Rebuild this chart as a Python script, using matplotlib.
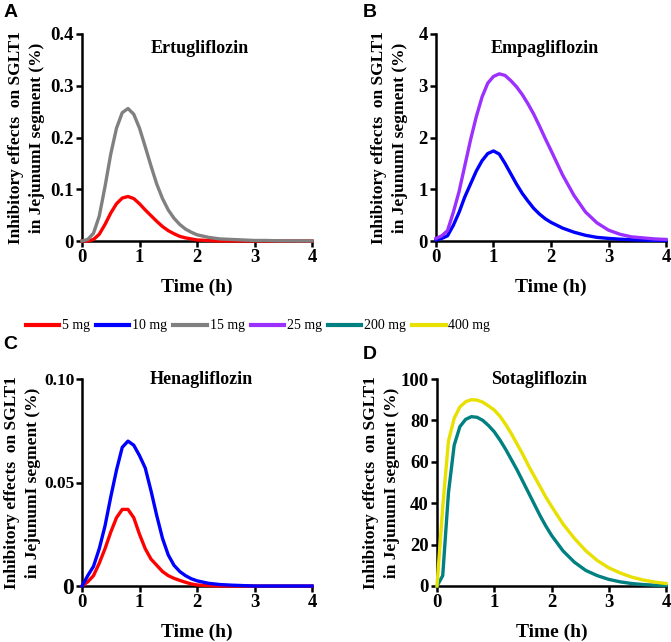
import matplotlib
matplotlib.use("Agg")
import matplotlib.pyplot as plt

plt.rcParams['font.family'] = ['Liberation Serif', 'DejaVu Serif']
plt.rcParams['font.weight'] = 'bold'

# time grid (h)
t = [0, 0.1, 0.2, 0.3, 0.4, 0.5, 0.6, 0.7, 0.8, 0.9, 1.0, 1.1, 1.2, 1.3, 1.4, 1.5,
     1.6, 1.7, 1.8, 1.9, 2.0, 2.2, 2.4, 2.6, 2.8, 3.0, 3.2, 3.4, 3.6, 3.8, 4.0]

# Ertugliflozin
ertu_5 = [0, 0, 0.003, 0.013, 0.032, 0.054, 0.072, 0.083, 0.086, 0.082, 0.072, 0.060,
          0.049, 0.038, 0.028, 0.020, 0.014, 0.009, 0.006, 0.004, 0.002, 0.001, 0,
          0, 0, 0, 0, 0, 0, 0, 0]
ertu_15 = [0, 0.003, 0.015, 0.048, 0.105, 0.168, 0.218, 0.248, 0.256, 0.245, 0.218,
           0.182, 0.145, 0.110, 0.082, 0.060, 0.044, 0.032, 0.023, 0.017, 0.012, 0.007,
           0.004, 0.003, 0.002, 0.001, 0.001, 0.0005, 0.0003, 0.0002, 0.0001]

# Empagliflozin
empa_10 = [0.02, 0.05, 0.10, 0.30, 0.55, 0.85, 1.10, 1.35, 1.55, 1.69, 1.74, 1.68, 1.50,
           1.30, 1.10, 0.92, 0.77, 0.63, 0.52, 0.43, 0.36, 0.25, 0.17, 0.11, 0.07, 0.05,
           0.035, 0.025, 0.018, 0.013, 0.01]
empa_25 = [0.05, 0.10, 0.20, 0.55, 0.95, 1.45, 1.95, 2.40, 2.78, 3.05, 3.18, 3.23, 3.20,
           3.10, 2.98, 2.83, 2.65, 2.45, 2.22, 1.98, 1.75, 1.28, 0.88, 0.56, 0.35, 0.21,
           0.13, 0.08, 0.06, 0.04, 0.03]

# Henagliflozin
hena_5 = [0, 0.002, 0.005, 0.011, 0.018, 0.026, 0.033, 0.037, 0.037, 0.033, 0.025, 0.018,
          0.013, 0.010, 0.007, 0.005, 0.0037, 0.0027, 0.0018, 0.001, 0.0005, 0.0002, 0,
          0, 0, 0, 0, 0, 0, 0, 0]
hena_10 = [0, 0.005, 0.0095, 0.018, 0.029, 0.043, 0.056, 0.067, 0.070, 0.068, 0.063,
           0.057, 0.046, 0.034, 0.023, 0.015, 0.010, 0.007, 0.005, 0.0035, 0.0025, 0.0013,
           0.0007, 0.0004, 0.0002, 0, 0, 0, 0, 0, 0]

# Sotagliflozin
sota_200 = [0, 5, 45, 68, 77, 80.5, 81.8, 81.5, 80, 77.5, 74.5, 70.5, 66, 61, 56, 50.5,
            45, 39.5, 34, 29, 24.5, 17, 11.5, 7.5, 5, 3.2, 2, 1.2, 0.7, 0.4, 0.2]
sota_400 = [0, 38, 70, 81, 86.5, 89, 90, 89.8, 88.8, 87, 85, 82, 78, 73.5, 68.5, 63.5,
            58, 53, 48, 43, 38.5, 30, 23, 17, 12.3, 8.8, 6.3, 4.3, 2.9, 1.9, 1.2]

doses = ['5 mg', '10 mg', '15 mg', '25 mg', '200 mg', '400 mg']
colors = {'5 mg': '#ff0000', '10 mg': '#0000ff', '15 mg': '#808080',
          '25 mg': '#9b30ff', '200 mg': '#008080', '400 mg': '#e8e000'}

ylabel = 'Inhibitory effects  on SGLT1\nin JejunumI segment (%)'

fig = plt.figure(figsize=(6.71, 6.42), dpi=100)
W, H = 671, 642


def make_ax(x0, x1, ytop, ybot):
    return fig.add_axes([x0 / W, 1 - ybot / H, (x1 - x0) / W, (ybot - ytop) / H])


axA = make_ax(82, 312, 34, 241)
axB = make_ax(436, 666, 34, 241)
axC = make_ax(82, 312, 379, 586)
axD = make_ax(437, 666, 379, 586)

panels = [
    (axA, 'Ertugliflozin', [('5 mg', ertu_5), ('15 mg', ertu_15)], 0.4, [0, 0.1, 0.2, 0.3, 0.4],
     ['0', '0.1', '0.2', '0.3', '0.4'], (0.51, 0.93), -0.16),
    (axB, 'Empagliflozin', [('10 mg', empa_10), ('25 mg', empa_25)], 4, [0, 1, 2, 3, 4],
     ['0', '1', '2', '3', '4'], (0.475, 0.93), -0.122),
    (axC, 'Henagliflozin', [('5 mg', hena_5), ('10 mg', hena_10)], 0.1, [0, 0.05, 0.10],
     ['0', '0.05', '0.10'], (0.52, 1.0), -0.178),
    (axD, 'Sotagliflozin', [('200 mg', sota_200), ('400 mg', sota_400)], 100,
     [0, 20, 40, 60, 80, 100], ['0', '20', '40', '60', '80', '100'], (0.445, 1.0), -0.16),
]

for ax, title, series, ymax, yt, ytl, tpos, labx in panels:
    for dose, vals in series:
        ax.plot(t, vals, color=colors[dose], lw=2.4, clip_on=False, zorder=3,
                solid_joinstyle='round')
    ax.set_xlim(0, 4)
    ax.set_ylim(0, ymax)
    ax.set_xticks([0, 1, 2, 3, 4])
    ax.set_yticks(yt)
    ax.set_yticklabels(ytl)
    for s in ['top', 'right']:
        ax.spines[s].set_visible(False)
    for s in ['left', 'bottom']:
        ax.spines[s].set_linewidth(1.8)
    ax.tick_params(width=1.8, length=4, labelsize=13.5, pad=2)
    ax.set_xlabel('Time (h)', fontsize=14, fontweight='bold', labelpad=9)
    ax.set_ylabel(ylabel, fontsize=12.5, fontweight='bold', linespacing=1.45)
    ax.yaxis.set_label_coords(labx, 0.5)
    ax.text(tpos[0], tpos[1], title, transform=ax.transAxes, ha='center', va='center',
            fontsize=13, fontweight='bold')

axC.tick_params(axis='y', labelsize=12.5, pad=1.5)
for lab in axC.get_yticklabels():
    if lab.get_text() == '0':
        lab.set_fontsize(17)

# panel letters
for letter, x, y in [('A', 4, 4), ('B', 363, 4), ('C', 3, 336), ('D', 363, 346)]:
    fig.text(x / W, 1 - y / H, letter, fontsize=14, fontweight='bold',
             family='Liberation Sans', va='top', ha='left')

# shared legend
handles = [plt.Line2D([], [], color=colors[d], lw=3) for d in doses]
leg = fig.legend(handles, doses, loc='center', bbox_to_anchor=(258 / W, 1 - 326 / H),
                 ncol=6, frameon=False, handlelength=2.4, handletextpad=0.2,
                 columnspacing=0.45, prop={'family': 'Liberation Serif', 'weight': 'normal',
                                           'size': 10})

fig.savefig('out.png', dpi=100)
